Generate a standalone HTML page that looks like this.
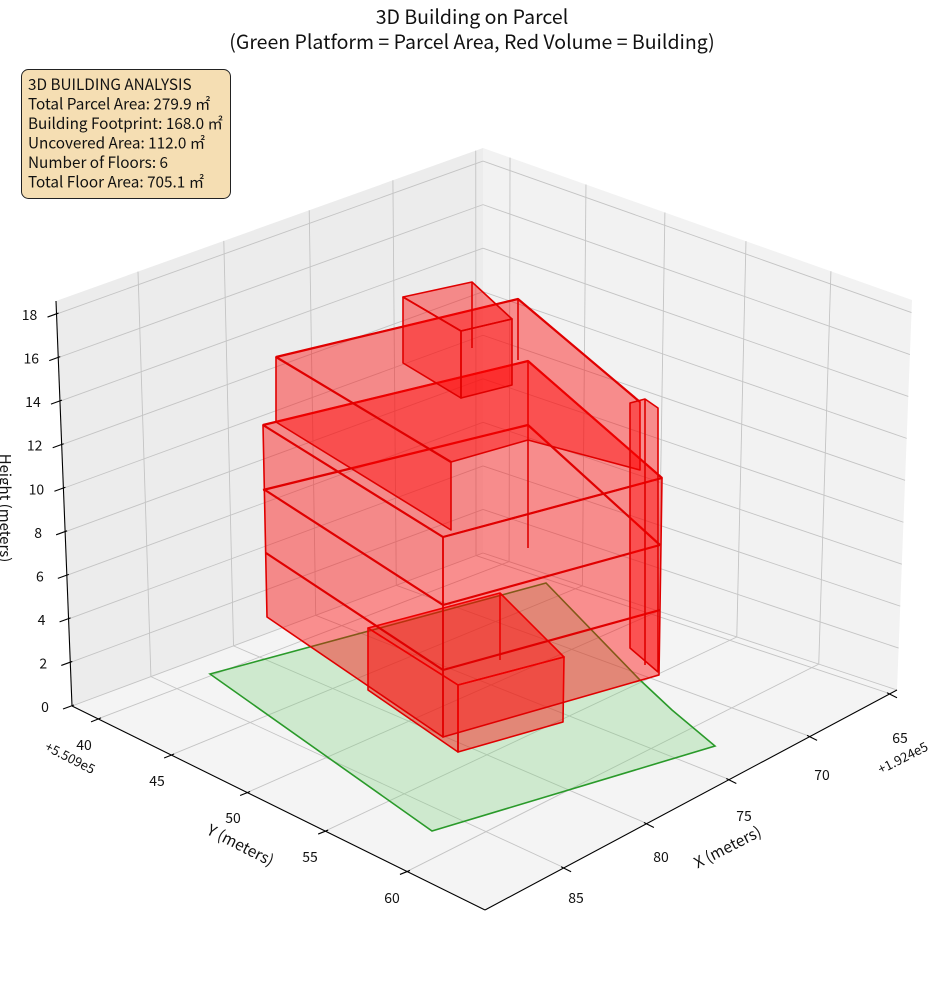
<!DOCTYPE html>
<html><head><meta charset="utf-8">
<style>
html,body{margin:0;padding:0;background:#fff;}
svg{display:block;}
text{font-family:"Noto Sans CJK JP","Liberation Sans",sans-serif;fill:#111;}
</style></head>
<body>
<svg id="s" width="944" height="992" viewBox="0 0 944 992" xmlns="http://www.w3.org/2000/svg">
<g id="panes"></g>
<g id="grid" stroke="#c4c4c4" stroke-width="0.9" fill="none"></g>
<g id="axes" stroke="#000" stroke-width="1.1" fill="none"></g>
<!-- parcel -->
<polygon points="210,674 546,583 640,680 672,710 715,746 432,831" fill="rgba(120,210,120,0.3)" stroke="#2a9a2a" stroke-width="1.6"/>
<g stroke="#e00000" stroke-width="1.6" fill="rgba(255,0,0,0.42)" stroke-linejoin="round">
<!-- ground box -->
<polygon points="368,628 500,593 564,657 458,685"/>
<polygon points="368,628 458,685 458,752 368,690"/>
<polygon points="458,685 564,657 563,722 458,752"/>
<line x1="500" y1="593" x2="500" y2="660"/>
<!-- lower block -->
<polygon points="263,425 528,361 662,478 443,537"/>
<polygon points="263,425 443,537 443,737 267,617"/>
<polygon points="443,537 662,478 659,675 443,737"/>
<polyline fill="none" stroke-width="2.2" points="265,490 443,605 660,545"/>
<polyline fill="none" stroke-width="2.2" points="266,553 443,670 660,610"/>
<polyline fill="none" stroke-width="2.2" points="263,425 528,361 662,478"/>
<line x1="528" y1="361" x2="528" y2="548"/>
<polyline fill="none" stroke-width="2.2" points="263,490 528,425 660,545"/>
<polyline fill="none" stroke-width="2.2" points="263,425 443,537 662,478"/>
<!-- upper block -->
<polygon points="276,357 518,299 640,402 640,470 528,440 451,462"/>
<polygon points="276,357 451,462 451,530 276,422"/>
<polyline fill="none" stroke-width="2.2" points="276,357 518,299 640,402"/>
<line stroke-width="2.2" x1="276" y1="357" x2="451" y2="462"/>
<line x1="518" y1="299" x2="518" y2="360"/>
<!-- thin wall -->
<polygon points="630,403 645,399 658,408 658,672 630,648"/>
<line x1="645" y1="399" x2="645" y2="665"/>
<!-- penthouse -->
<polygon points="403,297 472,282 512,319 461,331"/>
<polygon points="403,297 461,331 461,398 403,363"/>
<polygon points="461,331 512,319 512,385 461,398"/>
<line x1="472" y1="282" x2="472" y2="348"/>
</g>
<g id="labels" font-size="14"></g>
<text x="472" y="24" font-size="19.5" text-anchor="middle">3D Building on Parcel</text>
<text x="472" y="49" font-size="19.5" text-anchor="middle">(Green Platform = Parcel Area, Red Volume = Building)</text>
<rect x="21.5" y="69.5" width="209" height="129" rx="7" fill="#f5deb3" stroke="#222" stroke-width="1"/>
<g font-size="15.3">
<text x="28" y="90">3D BUILDING ANALYSIS</text>
<text x="28" y="109.5">Total Parcel Area: 279.9 ㎡</text>
<text x="28" y="129">Building Footprint: 168.0 ㎡</text>
<text x="28" y="148.5">Uncovered Area: 112.0 ㎡</text>
<text x="28" y="168">Number of Floors: 6</text>
<text x="28" y="187.5">Total Floor Area: 705.1 ㎡</text>
</g>
<text font-size="15" transform="translate(0,508) rotate(90)" text-anchor="middle">Height (meters)</text>
<text font-size="15.5" transform="translate(238,850) rotate(27)" text-anchor="middle">Y (meters)</text>
<text font-size="15.5" transform="translate(730,852) rotate(-27)" text-anchor="middle">X (meters)</text>
<text font-size="13" transform="translate(68,762) rotate(27)" text-anchor="middle">+5.509e5</text>
<text font-size="13" transform="translate(905,762) rotate(-27)" text-anchor="middle">+1.924e5</text>
</svg>
<script>
const NS="http://www.w3.org/2000/svg";
function el(p,t,a){const e=document.createElementNS(NS,t);for(const k in a)e.setAttribute(k,a[k]);p.appendChild(e);return e;}
const B=[483,553],L=[72,706],R=[897,690],F=[485,910],TB=[483,148],TL=[56,301],TR=[912,300];
const lp=(a,b,f)=>[a[0]+(b[0]-a[0])*f,a[1]+(b[1]-a[1])*f];
const P=document.getElementById('panes'),G=document.getElementById('grid'),A=document.getElementById('axes'),T=document.getElementById('labels');
const pts=a=>a.map(p=>p.join(',')).join(' ');
el(P,'polygon',{points:pts([TL,TB,B,L]),fill:'#ececec'});
el(P,'polygon',{points:pts([TB,TR,R,B]),fill:'#f2f2f2'});
el(P,'polygon',{points:pts([L,B,R,F]),fill:'#f4f4f4'});
function ln(g,a,b,extra){el(g,'line',Object.assign({x1:a[0],y1:a[1],x2:b[0],y2:b[1]},extra||{}));}
const yt=[[40,.063,84,750],[45,.240,157,786],[50,.424,233,823],[55,.613,310,862],[60,.811,392,903]];
yt.forEach(([v,f,lx,ly])=>{const p=lp(L,F,f),q=lp(B,R,f),t=lp(TB,TR,f);ln(G,p,q);ln(G,q,t);
 ln(A,[p[0]-7,p[1]+3],[p[0]+3,p[1]-1]);
 el(T,'text',{x:lx,y:ly,'text-anchor':'middle'}).textContent=v;});
const xt=[[65,.017,900,743],[70,.211,822,780],[75,.407,744,821],[80,.607,661,862],[85,.808,576,903]];
xt.forEach(([v,f,lx,ly])=>{const p=lp(R,F,f),q=lp(B,L,f),t=lp(TB,TL,f);ln(G,p,q);ln(G,q,t);
 ln(A,[p[0]+7,p[1]+4],[p[0]-3,p[1]-1]);
 el(T,'text',{x:lx,y:ly,'text-anchor':'middle'}).textContent=v;});
for(let z=0;z<=18;z+=2){const g=z/18.6;const p=lp(L,TL,g),q=lp(B,TB,g),r=lp(R,TR,g);ln(G,p,q);ln(G,q,r);
 ln(A,[p[0]-9,p[1]+3],[p[0]+2,p[1]-1]);
 el(T,'text',{x:p[0]-27,y:p[1]+6,'text-anchor':'middle'}).textContent=z;}
ln(A,L,F);ln(A,F,R);ln(A,L,TL);
</script>
</body></html>
